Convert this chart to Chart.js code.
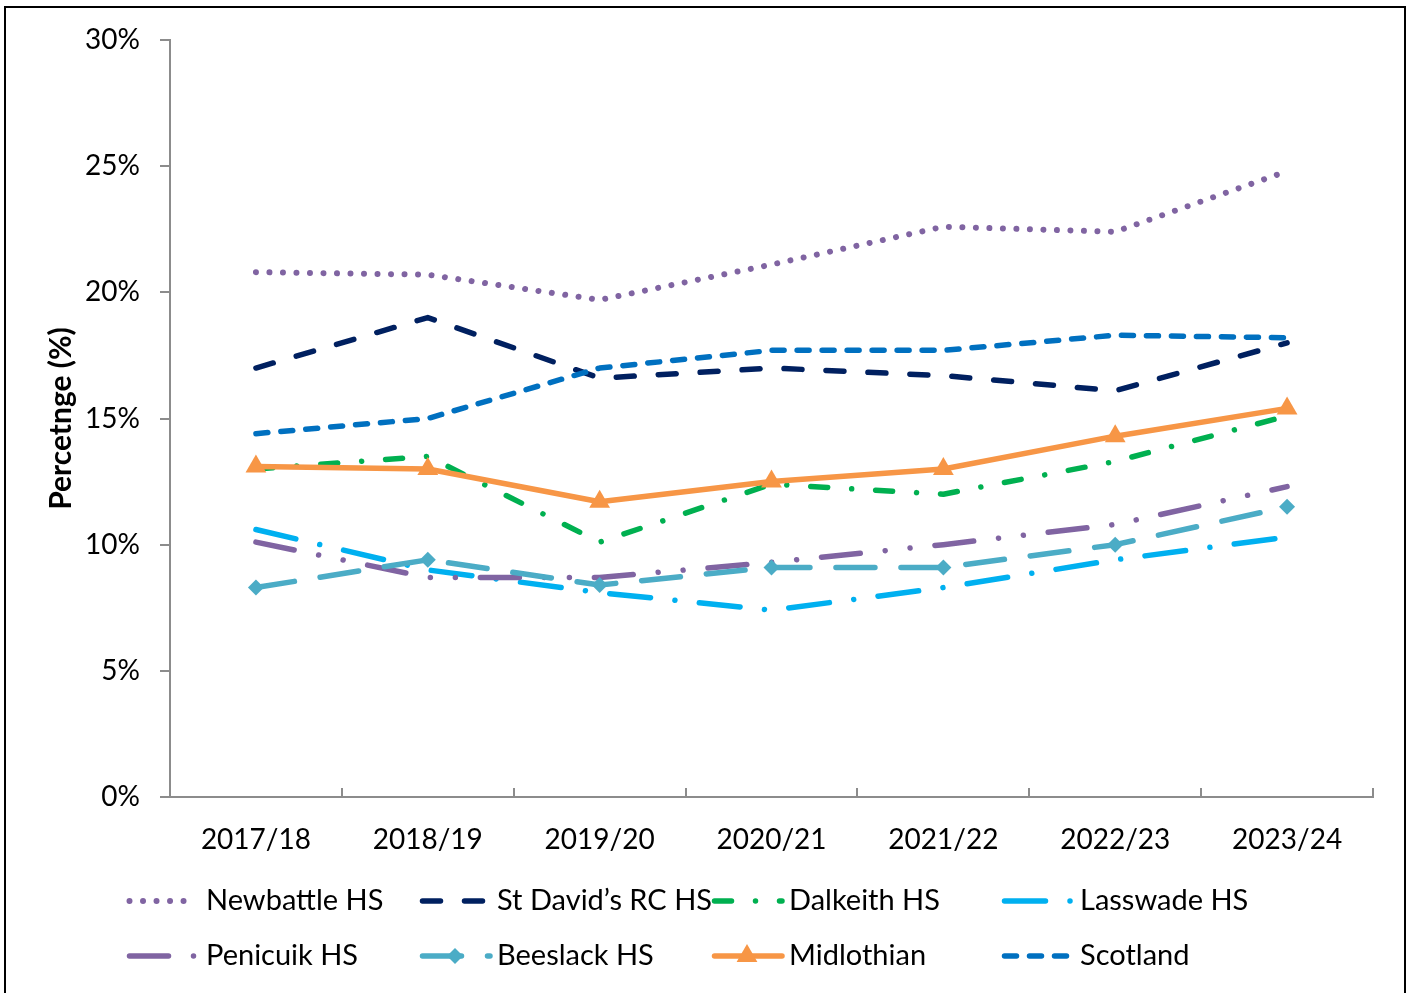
<!DOCTYPE html>
<html>
<head>
<meta charset="utf-8">
<style>
html,body{margin:0;padding:0;background:#fff;}
#wrap{position:relative;width:1409px;height:993px;overflow:hidden;}
</style>
<script src="https://cdn.jsdelivr.net/npm/chart.js@4.4.1/dist/chart.umd.min.js"></script>
</head>
<body>
<div id="wrap"><canvas id="c" width="1409" height="993"></canvas></div>
<script>
const categories = ['2017/18','2018/19','2019/20','2020/21','2021/22','2022/23','2023/24'];
const seriesNames = ['Newbattle HS','St David\u2019s RC HS','Dalkeith HS','Lasswade HS','Penicuik HS','Beeslack HS','Midlothian','Scotland'];
const newbattle  = [20.8, 20.7, 19.7, 21.1, 22.6, 22.4, 24.8];
const stDavids   = [17.0, 19.0, 16.6, 17.0, 16.7, 16.1, 18.0];
const dalkeith   = [13.0, 13.5, 10.1, 12.4, 12.0, 13.3, 15.1];
const lasswade   = [10.6, 9.0, 8.1, 7.4, 8.3, 9.4, 10.3];
const penicuik   = [10.1, 8.7, 8.7, 9.3, 10.0, 10.8, 12.3];
const beeslack   = [8.3, 9.4, 8.4, 9.1, 9.1, 10.0, 11.5];
const midlothian = [13.1, 13.0, 11.7, 12.5, 13.0, 14.3, 15.4];
const scotland   = [14.4, 15.0, 17.0, 17.7, 17.7, 18.3, 18.2];
const yTicks = [0, 5, 10, 15, 20, 25, 30];
const yTitle = 'Percetnge (%)';

const FONT = 'Lato, "Open Sans", sans-serif';
const AXIS = '#8c8c8c';

const styles = [
  {color:'#8064A2', w:6,   dash:[0.01, 13.5]},
  {color:'#002060', w:5.5, dash:[18, 24]},
  {color:'#00B050', w:5.5, dash:[17, 24, 0.01, 24]},
  {color:'#00B0F0', w:5.5, dash:[41, 24.5, 0.01, 24.5]},
  {color:'#8064A2', w:5.5, dash:[39, 25, 0.01, 25, 0.01, 25]},
  {color:'#4BACC6', w:5.5, dash:[39, 26], point:'rectRot', r:8},
  {color:'#F79646', w:5.5, dash:[], point:'triangle', r:12},
  {color:'#0070C0', w:5.5, dash:[12, 13]}
];
const values = [newbattle, stDavids, dalkeith, lasswade, penicuik, beeslack, midlothian, scotland];

const datasets = values.map((v, i) => ({
  label: seriesNames[i],
  data: v,
  borderColor: styles[i].color,
  backgroundColor: styles[i].color,
  borderWidth: styles[i].w,
  borderDash: styles[i].dash,
  borderCapStyle: 'round',
  borderJoinStyle: 'round',
  tension: 0,
  fill: false,
  pointStyle: styles[i].point || 'circle',
  pointRadius: styles[i].point ? styles[i].r : 0,
  pointHoverRadius: styles[i].point ? styles[i].r : 0,
  pointBorderWidth: 0,
  pointBackgroundColor: styles[i].color,
  order: values.length - i
}));

const frame = {
  id: 'frame',
  beforeDraw(chart) {
    const ctx = chart.ctx;
    ctx.save();
    ctx.fillStyle = '#fff';
    ctx.fillRect(0, 0, chart.width, chart.height);
    ctx.strokeStyle = '#000';
    ctx.lineWidth = 2;
    ctx.strokeRect(5, 7, 1400, 1010);
    ctx.restore();
  }
};

const legendPlugin = {
  id: 'customLegend',
  afterDraw(chart) {
    const ctx = chart.ctx;
    const colX = [127, 420, 712, 1002];
    const textX = [206, 497, 789, 1080];
    const rowY = [901, 956];
    chart.data.datasets.forEach((ds, i) => {
      const c = i % 4;
      const x0 = colX[c];
      const y = rowY[Math.floor(i / 4)];
      ctx.save();
      ctx.strokeStyle = ds.borderColor;
      ctx.lineWidth = ds.borderWidth;
      ctx.lineCap = 'round';
      ctx.setLineDash(ds.borderDash || []);
      ctx.beginPath();
      ctx.moveTo(x0 + 2.5, y);
      ctx.lineTo(x0 + 70, y);
      ctx.stroke();
      ctx.setLineDash([]);
      if (ds.pointRadius > 0) {
        ctx.fillStyle = ds.pointBackgroundColor;
        Chart.helpers.drawPoint(ctx, {pointStyle: ds.pointStyle, radius: ds.pointRadius, rotation: 0, borderWidth: 0}, x0 + 35, y);
      }
      ctx.fillStyle = '#000';
      ctx.font = '29px ' + FONT;
      ctx.textBaseline = 'middle';
      ctx.textAlign = 'left';
      ctx.fillText(ds.label, textX[c], y);
      ctx.restore();
    });
  }
};

new Chart(document.getElementById('c'), {
  type: 'line',
  data: { labels: categories, datasets },
  plugins: [frame, legendPlugin],
  options: {
    responsive: false,
    animation: false,
    devicePixelRatio: 1,
    layout: { padding: { top: 40, right: 36, left: 0, bottom: 0 } },
    plugins: { legend: { display: false }, tooltip: { enabled: false } },
    scales: {
      x: {
        type: 'category',
        offset: true,
        grid: { display: true, drawOnChartArea: false, drawTicks: true, tickLength: -9, offset: true, color: AXIS, lineWidth: 2 },
        border: { display: true, color: AXIS, width: 2 },
        ticks: { color: '#000', font: { family: FONT, size: 28 }, padding: 35, maxRotation: 0 },
        afterFit(s) { s.height = 196; }
      },
      y: {
        min: 0, max: 30,
        afterBuildTicks(s) { s.ticks = yTicks.map(v => ({ value: v })); },
        grid: { display: true, drawOnChartArea: false, drawTicks: true, tickLength: 10, color: AXIS, lineWidth: 2 },
        border: { display: true, color: AXIS, width: 2 },
        ticks: { color: '#000', font: { family: FONT, size: 28 }, padding: 20, callback: v => v + '%' },
        title: { display: true, text: yTitle, color: '#000', font: { family: FONT, size: 30, weight: 'bold' }, padding: { top: 43, bottom: 0 } },
        afterFit(s) { s.width = 170; }
      }
    }
  }
});
</script>
</body>
</html>
